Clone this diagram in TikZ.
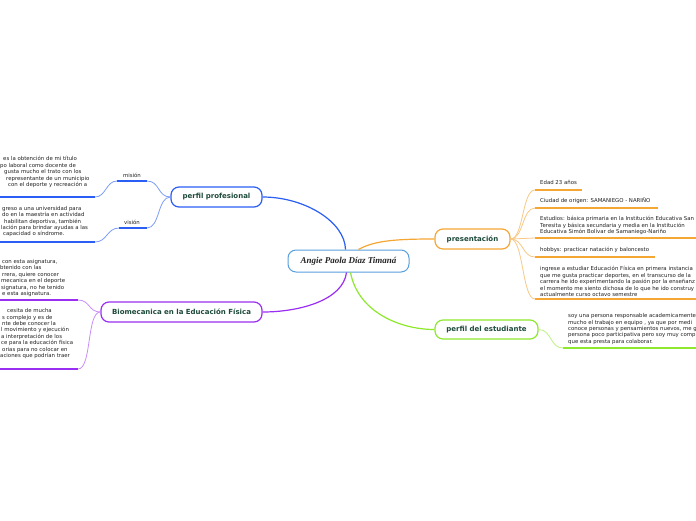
\documentclass[tikz,border=0pt]{standalone}
\usepackage{fontspec}
\setmainfont{DejaVu Sans}
\newfontfamily\namefont{Liberation Serif}
\definecolor{cblue}{HTML}{2A5EF5}
\definecolor{cbluel}{HTML}{7D9EF7}
\definecolor{corange}{HTML}{F5A733}
\definecolor{corangel}{HTML}{F8C886}
\definecolor{cpurple}{HTML}{9A2EF2}
\definecolor{cpurplel}{HTML}{C98FF6}
\definecolor{cgreen}{HTML}{8EE82E}
\definecolor{cgreenl}{HTML}{BDF283}
\definecolor{ccentral}{HTML}{5A9FDC}
\definecolor{ctext}{HTML}{1E4A3C}
\definecolor{cleaf}{HTML}{222222}
\begin{document}
\begin{tikzpicture}[x=1pt,y=-1pt,
  branch/.style={draw=#1, line width=1.2pt, rounded corners=8pt, fill=white,
    minimum height=20pt, inner sep=0pt, font=\fontsize{7}{8}\selectfont\bfseries, text=ctext},
  uline/.style={draw=#1, line width=2pt},
  conn/.style={draw=#1, line width=0.8pt},
  mainconn/.style={draw=#1, line width=1.2pt},
  leaf/.style={inner sep=0pt, anchor=north west, align=left,
    font=\fontsize{5.4}{6.4}\selectfont, text=cleaf},
  lab/.style={inner sep=0pt, font=\fontsize{5.4}{6.4}\selectfont, text=cleaf}]
\useasboundingbox (0,0) rectangle (696,520);
\fill[white] (0,0) rectangle (696,520);

% central and branch nodes
\node[draw=ccentral, line width=1pt, rounded corners=8pt, fill=white,
  minimum width=121pt, minimum height=22pt, inner sep=0pt,
  font=\namefont\bfseries\itshape\fontsize{9}{10}\selectfont, text=black!85] (c) at (348.5,261) {Angie Paola Díaz Timaná};
\node[branch=cblue, minimum width=91pt] (pp) at (216.5,197) {perfil profesional};
\node[branch=cpurple, minimum width=161pt] (bio) at (181.5,312) {Biomecanica en la Educación Física};
\node[branch=corange, minimum width=75pt] (pres) at (472.5,239) {presentación};
\node[branch=cgreen, minimum width=103pt, minimum height=19pt] (pe) at (486.5,329.5) {perfil del estudiante};

% coordinates for underline ends
\coordinate (mL) at (117,181); \coordinate (mR) at (147,181);
\coordinate (vL) at (119,228); \coordinate (vR) at (147,228);
\coordinate (tmL) at (-5,197); \coordinate (tmR) at (95,197);
\coordinate (tvL) at (-5,242); \coordinate (tvR) at (95,242);
\coordinate (b1L) at (-5,300); \coordinate (b1R) at (78,300);
\coordinate (b2L) at (-5,369); \coordinate (b2R) at (78,369);
\coordinate (p1L) at (535,190); \coordinate (p1R) at (582,190);
\coordinate (p2L) at (535,208); \coordinate (p2R) at (658,208);
\coordinate (p3L) at (535,238); \coordinate (p3R) at (700,238);
\coordinate (p4L) at (535,257); \coordinate (p4R) at (655,257);
\coordinate (p5L) at (535,299); \coordinate (p5R) at (700,299);
\coordinate (e1L) at (563,348); \coordinate (e1R) at (700,348);

% main connectors
\draw[mainconn=cblue] ([xshift=-3pt]c.north) .. controls (345,222) and (305,197) .. (pp.east);
\draw[mainconn=corange] ([xshift=10pt]c.north) .. controls (375,240) and (400,239) .. (pres.west);
\draw[mainconn=cpurple] ([xshift=-2pt]c.south) .. controls (343,300) and (300,312) .. (bio.east);
\draw[mainconn=cgreen] ([xshift=2pt]c.south) .. controls (358,312) and (400,329.5) .. (pe.west);

% perfil profesional branch
\draw[conn=cbluel] (pp.west) .. controls +(-13,0) and +(13,0) .. (mR);
\draw[conn=cbluel] (pp.west) .. controls +(-13,0) and +(13,0) .. (vR);
\draw[conn=cbluel] (mL) .. controls +(-11,0) and +(11,0) .. (tmR);
\draw[conn=cbluel] (vL) .. controls +(-12,0) and +(12,0) .. (tvR);
\draw[uline=cblue] (mL) -- (mR);
\draw[uline=cblue] (vL) -- (vR);
\draw[uline=cblue] (tmL) -- (tmR);
\draw[uline=cblue] (tvL) -- (tvR);
\node[lab] (lm) at (132,175.5) {misión};
\node[lab] (lv) at (132,222.5) {visión};
\node[leaf] (tm) at (0,156.4) {\hspace*{3pt}es la obtención de mi título\\
po laboral como docente de\\
\hspace*{4pt}gusta mucho el trato con los\\
\hspace*{6pt}representante de un municipio\\
\hspace*{8pt}con el deporte y recreación a};
\node[leaf] (tv) at (0,205.9) {\hspace*{2pt}greso a una universidad para\\
\hspace*{2pt}do en la maestría en actividad\\
\hspace*{4pt}habilitan deportiva, también\\
\hspace*{1pt}lación para brindar ayudas a las\\
\hspace*{3pt}capacidad o síndrome.};

% biomecanica branch
\draw[conn=cpurplel] (bio.west) .. controls +(-12,0) and +(12,0) .. (b1R);
\draw[conn=cpurplel] (bio.west) .. controls +(-14,0) and +(14,0) .. (b2R);
\draw[uline=cpurple] (b1L) -- (b1R);
\draw[uline=cpurple] (b2L) -- (b2R);
\node[leaf] (b1t) at (0,259.1) {\hspace*{2pt}con esta asignatura,\\
btenido con las\\
\hspace*{2pt}rrera, quiere conocer\\
\hspace*{1pt}mecanica en el deporte\\
\hspace*{1pt}signatura, no he tenido\\
\hspace*{2pt}e esta asignatura.};
\node[leaf] (b2t) at (0,308.4) {\hspace*{7pt}cesita de mucha\\
\hspace*{2pt}s complejo y es de\\
\hspace*{2pt}nte debe conocer la\\
\hspace*{1pt}l movimiento y ejecución\\
\hspace*{1pt}a interpretación de los\\
\hspace*{1pt}ce para la educación física\\
\hspace*{2pt}orias para no colocar en\\
aciones que podrían traer};

% presentacion branch
\foreach \k in {p1L,p2L,p3L,p4L,p5L}
  \draw[conn=corangel] (pres.east) .. controls +(13,0) and +(-13,0) .. (\k);
\draw[uline=corange] (p1L) -- (p1R);
\draw[uline=corange] (p2L) -- (p2R);
\draw[uline=corange] (p3L) -- (p3R);
\draw[uline=corange] (p4L) -- (p4R);
\draw[uline=corange] (p5L) -- (p5R);
\node[leaf] (t1) at (540,180.4) {Edad 23 años};
\node[leaf] (t2) at (540,197.6) {Ciudad de origen: SAMANIEGO - NARIÑO};
\node[leaf] (t3) at (540,216.4) {Estudios: básica primaria en la Institución Educativa San\\
Teresita y básica secundaria y media en la Institución\\
Educativa Simón Bolívar de Samaniego-Nariño};
\node[leaf] (t4) at (540,247.4) {hobbys: practicar natación y baloncesto};
\node[leaf] (t5) at (540,266.4) {ingrese a estudiar Educación Física en primera instancia\\
que me gusta practicar deportes, en el transcurso de la\\
carrera he ido experimentando la pasión por la enseñanz\\
el momento me siento dichosa de lo que he ido construy\\
actualmente curso octavo semestre};

% perfil del estudiante branch
\draw[conn=cgreenl] (pe.east) .. controls +(13,0) and +(-13,0) .. (e1L);
\draw[uline=cgreen] (e1L) -- (e1R);
\node[leaf] (te) at (568,313.4) {soy una persona responsable academicamente\\
mucho el trabajo en equipo , ya que por medi\\
conoce personas y pensamientos nuevos, me g\\
persona poco participativa pero soy muy comp\\
que esta presta para colaborar.};
\end{tikzpicture}
\end{document}
